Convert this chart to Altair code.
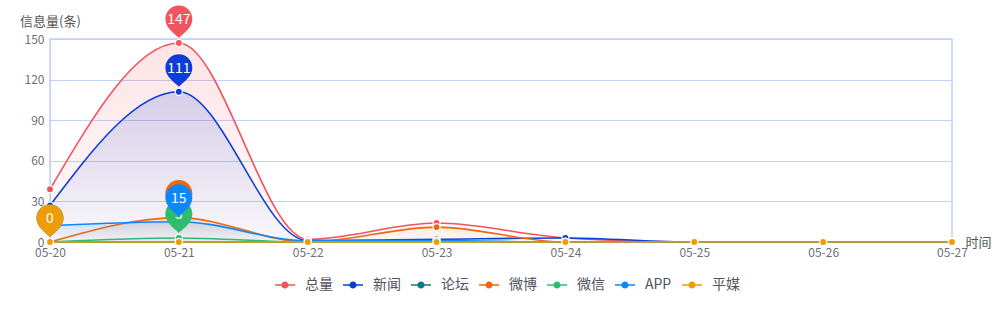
import altair as alt
import pandas as pd

dates = ["05-20", "05-21", "05-22", "05-23", "05-24", "05-25", "05-26", "05-27"]
series_names = ["总量", "新闻", "论坛", "微博", "微信", "APP", "平媒"]
colors = ["#f2545f", "#0b3ed8", "#0a7c83", "#f0680a", "#2dbd6d", "#0d87ff", "#ee9b06"]
rgb = [(242, 84, 95), (11, 62, 216), (10, 124, 131), (240, 104, 10), (45, 189, 109), (13, 135, 255), (238, 155, 6)]

total = [39, 147, 2, 14, 3, 0, 0, 0]
news = [27, 111, 1, 2, 3, 0, 0, 0]
forum = [0, 0, 0, 0, 0, 0, 0, 0]
weibo = [0, 18, 0, 11, 0, 0, 0, 0]
wechat = [0, 3, 0, 0, 0, 0, 0, 0]
app = [12, 15, 1, 1, 0, 0, 0, 0]
print_media = [0, 0, 0, 0, 0, 0, 0, 0]
values = [total, news, forum, weibo, wechat, app, print_media]

rows = []
for s, vals in zip(series_names, values):
    for d, v in zip(dates, vals):
        rows.append({"date": d, "series": s, "value": v})
df = pd.DataFrame(rows)

max_rows = []
for s, vals in zip(series_names, values):
    i = vals.index(max(vals))
    max_rows.append({"date": dates[i], "series": s, "value": vals[i]})
df_max = pd.DataFrame(max_rows)

FONT = "Noto Sans CJK SC"
PIN = ("M0,-0.37 C-0.3,-0.7 -1,-1.1 -1,-1.78 A1,1 0 1,1 1,-1.78 "
       "C1,-1.1 0.3,-0.7 0,-0.37 Z")
LEG = ("M-1,-0.07 L1,-0.07 L1,0.07 L-1,0.07 Z "
       "M0.36,0 A0.36,0.36 0 1,1 -0.36,0 A0.36,0.36 0 1,1 0.36,0 Z")

x_enc = alt.X("date:N", sort=dates,
              scale=alt.Scale(type="point", padding=0, domain=dates),
              axis=alt.Axis(title="时间", titleAngle=0, titleX=915, titleY=0,
                            titleAlign="left", titleBaseline="middle",
                            titleFontWeight="normal", titleFontSize=13, titleColor="#555555",
                            labelAngle=0, labelPadding=5, ticks=False, grid=False,
                            labelFlush=False, labelBound=False, labelOverlap=False,
                            domainColor="#c3d0fb", labelColor="#6e7079", labelFontSize=12))
y_enc = alt.Y("value:Q", scale=alt.Scale(domain=[0, 150], nice=False),
              axis=alt.Axis(title="信息量(条)", titleAngle=0, titleX=0, titleY=-18,
                            titleAlign="center", titleBaseline="middle",
                            titleFontWeight="normal", titleFontSize=13, titleColor="#555555",
                            values=[0, 30, 60, 90, 120, 150], ticks=False,
                            gridColor="#c3d0fb", domainColor="#c3d0fb",
                            labelColor="#6e7079", labelFontSize=12, labelPadding=6))
color_scale = alt.Scale(domain=series_names, range=colors)

base = alt.Chart(df)
layers = []
for idx, (s, c, (r, g, b)) in enumerate(zip(series_names, colors, rgb)):
    sub = base.transform_filter(alt.datum.series == s)
    grad = alt.Gradient(gradient="linear", x1=0, x2=0, y1=0, y2=1,
                        stops=[alt.GradientStop(offset=0, color=f"rgba({r},{g},{b},0.16)"),
                               alt.GradientStop(offset=1, color=f"rgba({r},{g},{b},0.02)")])
    area = sub.mark_area(interpolate="monotone", color=grad).encode(x=x_enc, y=y_enc)
    line = sub.mark_line(interpolate="monotone", strokeWidth=1.6, color=c).encode(x=x_enc, y=y_enc)
    if idx == 0:
        col = alt.Color("series:N", scale=color_scale,
                        legend=alt.Legend(title=None, orient="none", legendX=225, legendY=236,
                                          direction="horizontal", symbolType=LEG, symbolSize=400,
                                          symbolStrokeWidth=0, labelFontSize=14,
                                          labelColor="#4f5360", labelOffset=10,
                                          columnPadding=10, labelFont=FONT))
    else:
        col = alt.Color("series:N", scale=color_scale, legend=None)
    dots = sub.mark_point(filled=True, size=50, stroke="white", strokeWidth=1.2,
                          opacity=1).encode(x=x_enc, y=y_enc, color=col)
    layers += [area, line, dots]

pbase = alt.Chart(df_max)
for s, c in zip(series_names, colors):
    sub = pbase.transform_filter(alt.datum.series == s)
    pin = sub.mark_point(shape=PIN, filled=True, size=729, opacity=1, strokeWidth=0,
                         color=c).encode(x=x_enc, y=y_enc)
    txt = sub.mark_text(dy=-23, color="white", fontSize=14, font=FONT,
                        baseline="middle", align="center").encode(x=x_enc, y=y_enc, text="value:Q")
    layers += [pin, txt]

chart = alt.layer(*layers).properties(
    width=902, height=203,
    autosize=alt.AutoSizeParams(type="none"),
    padding={"left": 50, "top": 39, "right": 56, "bottom": 78},
    background="white",
).configure_view(stroke="#c3d0fb", strokeWidth=1.5).configure_axis(
    labelFont=FONT, titleFont=FONT
).configure_legend(labelFont=FONT)

chart.save("out.html", embed_options={"renderer": "svg", "actions": False})
